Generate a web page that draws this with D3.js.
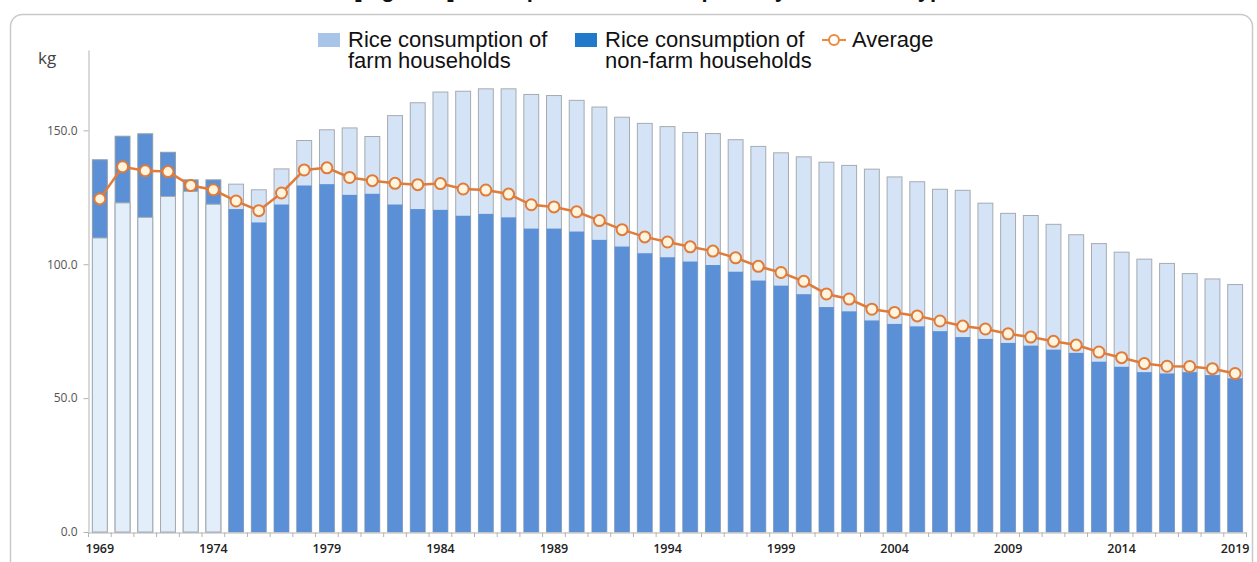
<!DOCTYPE html>
<html>
<head>
<meta charset="utf-8">
<script src="https://cdn.jsdelivr.net/npm/d3@7"></script>
<style>
  html, body { margin: 0; padding: 0; background: #fff; }
  svg { display: block; }
</style>
</head>
<body>
<svg id="chart" width="1257" height="562"></svg>
<script>
// ---------------- data ----------------
const years = [1969,1970,1971,1972,1973,1974,1975,1976,1977,1978,1979,1980,1981,1982,1983,1984,1985,1986,1987,1988,1989,1990,1991,1992,1993,1994,1995,1996,1997,1998,1999,2000,2001,2002,2003,2004,2005,2006,2007,2008,2009,2010,2011,2012,2013,2014,2015,2016,2017,2018,2019];
const farm = [109.8,122.9,117.5,125.3,127.2,122.4,129.9,127.8,135.6,146.2,150.2,150.9,147.7,155.5,160.3,164.3,164.6,165.5,165.5,163.4,163.0,161.2,158.7,154.9,152.6,151.4,149.2,148.8,146.5,144.0,141.6,140.1,138.1,136.9,135.5,132.6,130.8,128.0,127.6,122.8,119.0,118.2,114.9,111.0,107.7,104.5,101.9,100.3,96.5,94.5,92.4];
const nonFarm = [139.0,147.8,148.7,141.8,131.5,131.5,120.6,115.6,122.3,129.4,129.9,125.9,126.3,122.3,120.6,120.3,118.1,118.8,117.5,113.3,113.3,112.2,109.1,106.6,104.1,102.6,101.0,99.7,97.2,93.9,92.0,88.8,84.0,82.4,79.0,77.7,76.8,75.0,72.8,72.1,70.6,69.6,68.1,66.9,63.6,61.7,59.7,59.2,59.7,58.6,57.4];
const average = [124.4,136.4,134.9,134.6,129.4,127.8,123.6,120.0,126.6,135.2,136.0,132.4,131.2,130.2,129.7,130.1,128.1,127.7,126.2,122.2,121.4,119.6,116.3,112.9,110.2,108.3,106.5,104.9,102.4,99.2,96.9,93.6,88.9,87.0,83.2,82.0,80.7,78.8,76.9,75.8,74.0,72.8,71.2,69.8,67.2,65.1,62.9,61.9,61.8,61.0,59.2];
const yTickValues = [0, 50, 100, 150];
const xLabelYears = [1969,1974,1979,1984,1989,1994,1999,2004,2009,2014,2019];
const seriesNames = ["Rice consumption of\nfarm households", "Rice consumption of\nnon-farm households", "Average"];
const titleText = "[Figure 2] Per capita rice consumption by household type";
const unitLabel = "kg";

// ---------------- setup ----------------
const svg = d3.select("#chart");
const FONT = "'Open Sans', 'Noto Sans', sans-serif";
const LFONT = "'Liberation Sans', Arial, sans-serif";

const x = d3.scaleBand().domain(years).range([88.5, 1246.5]).paddingInner(0.3).paddingOuter(0.15);
const y = d3.scaleLinear().domain([0, 180]).range([532, 50]);

// clipped title at very top (only its lower edge shows)
svg.append("text")
  .attr("x", 655).attr("y", -3)
  .attr("text-anchor", "middle")
  .attr("font-family", LFONT).attr("font-weight", "bold").attr("font-size", 22)
  .attr("fill", "#111")
  .text(titleText);

// frame
svg.append("rect")
  .attr("x", 10.5).attr("y", 14.5).attr("width", 1242).attr("height", 600)
  .attr("rx", 12).attr("ry", 12)
  .attr("fill", "none").attr("stroke", "#c9c9c9").attr("stroke-width", 1.5);

// ---------------- bars ----------------
const rows = years.map((yr, i) => ({ year: yr, farm: farm[i], non: nonFarm[i] }));
const g = svg.append("g");
const groups = g.selectAll("g.yr").data(rows).join("g").attr("class", "yr");
groups.each(function (d) {
  const items = [{ key: "farm", v: d.farm }, { key: "non", v: d.non }].sort((a, b) => b.v - a.v);
  items.forEach((it, idx) => { it.front = idx === 1; it.year = d.year; });
  d3.select(this).selectAll("rect").data(items).join("rect")
    .attr("x", it => x(it.year) + 0.5)
    .attr("width", x.bandwidth() - 1)
    .attr("y", it => y(it.v))
    .attr("height", it => y(0) - y(it.v))
    .attr("fill", it => it.key === "farm" ? (it.front ? "#e2effb" : "#d4e3f5") : "#5b90d7")
    .attr("stroke", it => it.key === "farm" ? "#a6abb1" : (it.front ? "none" : "#8f9cab"))
    .attr("stroke-width", 1);
});

// ---------------- axes ----------------
const yAxis = svg.append("g")
  .attr("transform", "translate(88.5,0)")
  .call(d3.axisLeft(y).tickValues(yTickValues).tickFormat(d3.format(".1f")).tickSize(5).tickSizeOuter(0));
yAxis.select(".domain").attr("stroke", "#b3b3b3");
yAxis.selectAll(".tick line").attr("stroke", "#b3b3b3");
yAxis.selectAll(".tick text")
  .attr("x", -11).attr("font-family", FONT).attr("font-size", 12).attr("fill", "#555");

const xAxis = svg.append("g")
  .attr("transform", "translate(0,532.5)")
  .call(d3.axisBottom(x).tickValues(xLabelYears).tickSize(0).tickSizeOuter(0));
xAxis.select(".domain").attr("stroke", "#b3b3b3");
xAxis.selectAll(".tick text")
  .attr("dy", 0).attr("y", 20)
  .attr("font-family", FONT).attr("font-weight", 600).attr("font-size", 12.5).attr("fill", "#222");

// boundary ticks between bars
const bounds = years.map(yr => x(yr) - x.step() * x.paddingInner() / 2).concat([x(years[years.length - 1]) + x.bandwidth() + x.step() * x.paddingInner() / 2]);
svg.append("g").selectAll("line").data(bounds).join("line")
  .attr("x1", d => d).attr("x2", d => d)
  .attr("y1", 532.5).attr("y2", 537)
  .attr("stroke", "#b3b3b3");

// unit label
svg.append("text").attr("x", 38).attr("y", 64)
  .attr("font-family", FONT).attr("font-size", 17).attr("fill", "#444").text(unitLabel);

// ---------------- average line ----------------
const cx = (yr) => x(yr) + x.bandwidth() / 2;
const line = d3.line().x((d, i) => cx(years[i])).y(d => y(d));
svg.append("path").datum(average)
  .attr("d", line).attr("fill", "none")
  .attr("stroke", "#e07b39").attr("stroke-width", 2.5);
svg.append("g").selectAll("circle").data(average).join("circle")
  .attr("cx", (d, i) => cx(years[i])).attr("cy", d => y(d)).attr("r", 5.5)
  .attr("fill", "#fff4de").attr("stroke", "#e07b39").attr("stroke-width", 2);

// ---------------- legend ----------------
const leg = svg.append("g");
const legendItems = [
  { name: seriesNames[0], x: 318, type: "rect", color: "#a9c4e9" },
  { name: seriesNames[1], x: 575, type: "rect", color: "#2079c9" },
  { name: seriesNames[2], x: 822, type: "line", color: "#ec8a3e" }
];
legendItems.forEach(it => {
  if (it.type === "rect") {
    leg.append("rect").attr("x", it.x).attr("y", 33).attr("width", 22).attr("height", 14).attr("fill", it.color);
  } else {
    leg.append("line").attr("x1", it.x).attr("x2", it.x + 24).attr("y1", 40).attr("y2", 40)
      .attr("stroke", it.color).attr("stroke-width", 2);
    leg.append("circle").attr("cx", it.x + 12).attr("cy", 40).attr("r", 5)
      .attr("fill", "#fff").attr("stroke", it.color).attr("stroke-width", 2);
  }
  const lines = it.name.split("\n");
  lines.forEach((ln, k) => {
    leg.append("text").attr("x", it.x + 30).attr("y", 47 + k * 21)
      .attr("font-family", LFONT).attr("font-size", 22).attr("fill", "#111").text(ln);
  });
});
</script>
</body>
</html>
